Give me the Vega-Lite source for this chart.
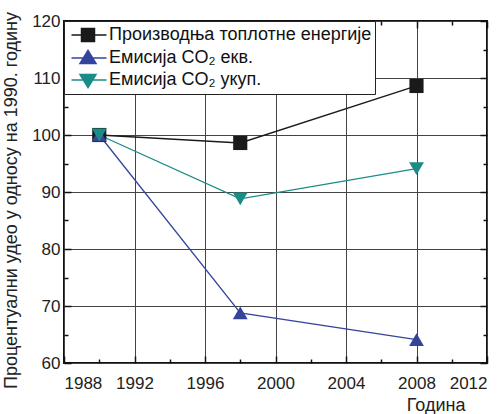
{
  "$schema": "https://vega.github.io/schema/vega-lite/v6.json",
  "width": 423,
  "height": 342,
  "autosize": {"type": "none"},
  "padding": {"left": 64, "top": 21, "right": 16, "bottom": 51},
  "background": "white",
  "config": {
    "font": "Liberation Sans",
    "view": {"stroke": "#111", "strokeWidth": 2},
    "axis": {"domain": false, "labelFontSize": 17, "labelColor": "#222", "tickColor": "#111", "titleFontSize": 18, "titleFontWeight": "normal", "titleColor": "#222"},
    "legend": {"orient": "top-left", "offset": 0, "fillColor": "white", "strokeColor": "#222", "padding": 3, "labelFontSize": 18, "labelColor": "#111", "labelOffset": 20, "rowPadding": 2, "symbolOpacity": 1, "symbolStrokeWidth": 1.5, "symbolSize": 400, "labelLimit": 400}
  },
  "data": {
    "values": [
      {"series": "Производња топлотне енергије", "year": 1990, "value": 100},
      {"series": "Производња топлотне енергије", "year": 1998, "value": 98.6},
      {"series": "Производња топлотне енергије", "year": 2008, "value": 108.6},
      {"series": "Емисија CO₂ екв.", "year": 1990, "value": 100},
      {"series": "Емисија CO₂ екв.", "year": 1998, "value": 68.8},
      {"series": "Емисија CO₂ екв.", "year": 2008, "value": 64.1},
      {"series": "Емисија CO₂ укуп.", "year": 1990, "value": 100},
      {"series": "Емисија CO₂ укуп.", "year": 1998, "value": 88.8},
      {"series": "Емисија CO₂ укуп.", "year": 2008, "value": 94.1}
    ]
  },
  "layer": [
    {
      "mark": {"type": "line", "strokeWidth": 1.3},
      "encoding": {
        "x": {"field": "year", "type": "quantitative", "scale": {"domain": [1988, 2012], "nice": false, "zero": false},
              "axis": {"orient": "bottom", "values": [1988, 1992, 1996, 2000, 2004, 2008, 2012], "format": "d", "grid": true, "gridColor": "#444", "gridWidth": 1, "tickSize": -7, "tickWidth": 1.5, "labelPadding": 19, "title": "Година", "titleAnchor": "end", "titleAlign": "right", "titleX": 401, "titleY": 33}},
        "y": {"field": "value", "type": "quantitative", "scale": {"domain": [60, 120], "nice": false, "zero": false},
              "axis": {"orient": "left", "values": [60, 70, 80, 90, 100, 110, 120], "grid": true, "gridColor": "#444", "gridWidth": 1, "tickSize": -7, "tickWidth": 1.5, "labelPadding": 11, "title": "Процентуални удео у односу на 1990. годину", "titlePadding": 11, "titleY": 179}},
        "color": {"field": "series", "type": "nominal", "sort": null, "legend": {"title": null},
                  "scale": {"domain": ["Производња топлотне енергије", "Емисија CO₂ екв.", "Емисија CO₂ укуп."], "range": ["#1a1a1a", "#34449a", "#1a8c87"]}}
      }
    },
    {
      "transform": [{"filter": "datum.series === 'Производња топлотне енергије'"}],
      "mark": {"type": "point", "shape": "square", "filled": true, "opacity": 1, "size": 200},
      "encoding": {
        "x": {"field": "year", "type": "quantitative",
              "axis": {"orient": "top", "values": [1988, 1992, 1996, 2000, 2004, 2008, 2012], "labels": false, "grid": false, "tickSize": -7, "tickWidth": 1.5, "title": null}},
        "y": {"field": "value", "type": "quantitative",
              "axis": {"orient": "right", "values": [60, 70, 80, 90, 100, 110, 120], "labels": false, "grid": false, "tickSize": -7, "tickWidth": 1.5, "title": null}},
        "color": {"field": "series", "type": "nominal", "sort": null, "legend": {"title": null}}
      }
    },
    {
      "transform": [{"filter": "datum.series === 'Емисија CO₂ екв.'"}],
      "mark": {"type": "point", "shape": "triangle-up", "filled": true, "opacity": 1, "size": 220},
      "encoding": {
        "x": {"field": "year", "type": "quantitative", "axis": null},
        "y": {"field": "value", "type": "quantitative", "axis": null},
        "color": {"field": "series", "type": "nominal", "sort": null, "legend": {"title": null}}
      }
    },
    {
      "transform": [{"filter": "datum.series === 'Емисија CO₂ укуп.'"}],
      "mark": {"type": "point", "shape": "triangle-down", "filled": true, "opacity": 1, "size": 220},
      "encoding": {
        "x": {"field": "year", "type": "quantitative", "axis": null},
        "y": {"field": "value", "type": "quantitative", "axis": null},
        "color": {"field": "series", "type": "nominal", "sort": null, "legend": {"title": null}}
      }
    },
    {
      "mark": {"type": "point", "filled": true, "opacity": 0, "size": 400, "strokeWidth": 1.5},
      "encoding": {
        "x": {"field": "year", "type": "quantitative",
              "axis": {"orient": "bottom", "values": [1990, 1994, 1998, 2002, 2006, 2010], "labels": false, "grid": false, "tickSize": -4, "tickWidth": 1.5, "title": null}},
        "y": {"field": "value", "type": "quantitative",
              "axis": {"orient": "left", "values": [65, 75, 85, 95, 105, 115], "labels": false, "grid": false, "tickSize": -4, "tickWidth": 1.5, "title": null}},
        "color": {"field": "series", "type": "nominal", "sort": null, "legend": {"title": null}},
        "shape": {"field": "series", "type": "nominal", "sort": null, "legend": {"title": null},
                  "scale": {"domain": ["Производња топлотне енергије", "Емисија CO₂ екв.", "Емисија CO₂ укуп."], "range": ["M-0.65,0H2.85M0.35,-0.65H1.65V0.65H0.35Z", "M-0.65,0H2.85M1,-0.75L1.8,0.55H0.2Z", "M-0.65,0H2.85M1,0.75L1.8,-0.55H0.2Z"]}}
      }
    },
    {
      "mark": {"type": "point", "opacity": 0},
      "encoding": {
        "x": {"field": "year", "type": "quantitative",
              "axis": {"orient": "top", "values": [1990, 1994, 1998, 2002, 2006, 2010], "labels": false, "grid": false, "tickSize": -4, "tickWidth": 1.5, "title": null}},
        "y": {"field": "value", "type": "quantitative",
              "axis": {"orient": "right", "values": [65, 75, 85, 95, 105, 115], "labels": false, "grid": false, "tickSize": -4, "tickWidth": 1.5, "title": null}}
      }
    }
  ]
}
